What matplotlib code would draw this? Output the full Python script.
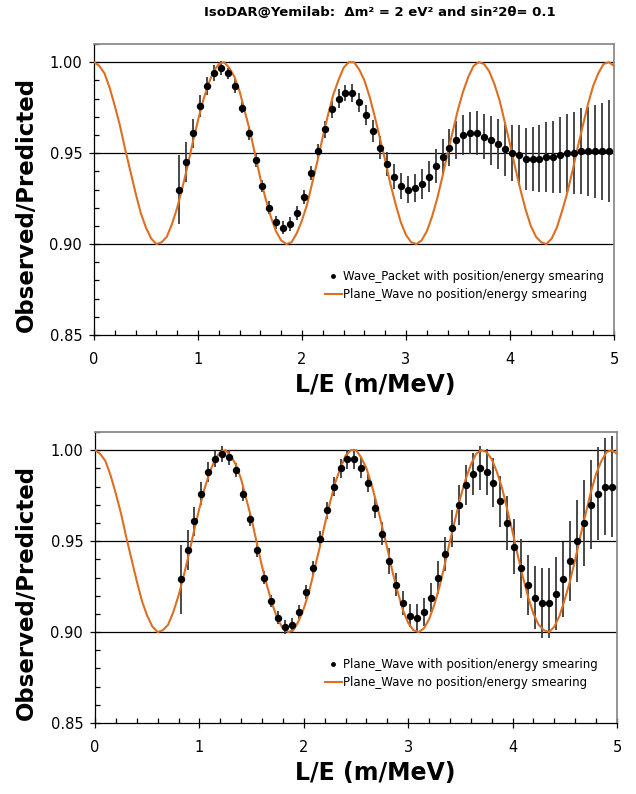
import matplotlib

matplotlib.use("Agg")
import matplotlib.pyplot as plt
from matplotlib.lines import Line2D
from matplotlib.ticker import MultipleLocator, FormatStrFormatter

plt.rcParams["font.family"] = ["DejaVu Sans"]

TITLE = "IsoDAR@Yemilab:  \u0394m\u00b2 = 2 eV\u00b2 and sin\u00b22\u03b8= 0.1"
XLABEL = "L/E (m/MeV)"
YLABEL = "Observed/Predicted"
ORANGE = "#DD6F22"

# L/E of the measured bins (same for both panels)
bin_x = [0.820, 0.887, 0.953, 1.020, 1.086, 1.153, 1.220, 1.286, 1.353, 1.419,
         1.486, 1.553, 1.619, 1.686, 1.752, 1.819, 1.886, 1.952, 2.019, 2.085,
         2.152, 2.219, 2.285, 2.352, 2.418, 2.485, 2.552, 2.618, 2.685, 2.751,
         2.818, 2.885, 2.951, 3.018, 3.084, 3.151, 3.218, 3.284, 3.351, 3.417,
         3.484, 3.551, 3.617, 3.684, 3.750, 3.817, 3.884, 3.950, 4.017, 4.083,
         4.150, 4.217, 4.283, 4.350, 4.416, 4.483, 4.550, 4.616, 4.683, 4.749,
         4.816, 4.883, 4.949]

# top panel: wave packet with smearing
wp_y = [0.930, 0.945, 0.961, 0.976, 0.987, 0.994, 0.997, 0.994, 0.987, 0.975,
        0.961, 0.946, 0.932, 0.920, 0.912, 0.909, 0.911, 0.917, 0.926, 0.939,
        0.951, 0.963, 0.974, 0.980, 0.983, 0.983, 0.978, 0.971, 0.962, 0.953,
        0.944, 0.937, 0.932, 0.930, 0.931, 0.933, 0.937, 0.943, 0.948, 0.953,
        0.957, 0.960, 0.961, 0.961, 0.959, 0.957, 0.955, 0.952, 0.950, 0.949,
        0.947, 0.947, 0.947, 0.948, 0.948, 0.949, 0.950, 0.950, 0.951, 0.951,
        0.951, 0.951, 0.951]
wp_err = [0.019, 0.011, 0.008, 0.006, 0.005, 0.0043, 0.0038, 0.003, 0.0037, 0.003,
          0.0037, 0.0037, 0.0032, 0.0035, 0.0037, 0.0037, 0.004, 0.0037, 0.004, 0.004,
          0.004, 0.0046, 0.0049, 0.005, 0.0046, 0.0049, 0.0052, 0.0057, 0.006, 0.0062,
          0.0064, 0.0068, 0.0071, 0.0076, 0.0077, 0.0082, 0.0084, 0.0092, 0.0099, 0.010,
          0.0104, 0.011, 0.0115, 0.012, 0.0125, 0.0134, 0.014, 0.0148, 0.0156, 0.0163,
          0.017, 0.0176, 0.0183, 0.0192, 0.0198, 0.0207, 0.0216, 0.0225, 0.0236, 0.0245,
          0.0256, 0.0265, 0.028]

# bottom panel: plane wave with smearing
pw_y = [0.929, 0.945, 0.961, 0.976, 0.988, 0.995, 0.998, 0.996, 0.989, 0.976,
        0.962, 0.945, 0.930, 0.917, 0.908, 0.903, 0.904, 0.911, 0.922, 0.935,
        0.951, 0.967, 0.980, 0.990, 0.995, 0.995, 0.990, 0.982, 0.968, 0.954,
        0.939, 0.926, 0.916, 0.909, 0.908, 0.911, 0.919, 0.930, 0.943, 0.957,
        0.970, 0.981, 0.987, 0.990, 0.988, 0.982, 0.972, 0.960, 0.947, 0.935,
        0.926, 0.919, 0.916, 0.916, 0.921, 0.929, 0.939, 0.950, 0.960, 0.970,
        0.976, 0.980, 0.980]
pw_err = [0.019, 0.011, 0.008, 0.0064, 0.0055, 0.0044, 0.0044, 0.004, 0.004, 0.0037,
          0.0037, 0.0037, 0.0037, 0.0034, 0.0037, 0.0038, 0.0038, 0.0037, 0.004, 0.0042,
          0.0044, 0.0046, 0.005, 0.0052, 0.0053, 0.0055, 0.0055, 0.005, 0.0055, 0.0064,
          0.007, 0.0064, 0.0066, 0.0064, 0.0073, 0.0077, 0.0082, 0.0092, 0.0095, 0.0103,
          0.011, 0.011, 0.0116, 0.0121, 0.0126, 0.0135, 0.014, 0.0148, 0.015, 0.0161,
          0.0165, 0.0174, 0.019, 0.019, 0.020, 0.0205, 0.0218, 0.0224, 0.0236, 0.0244,
          0.0256, 0.0265, 0.0276]

# plane wave, no smearing (read every 0.05 m/MeV)
curve_x = [round(0.05 * i, 2) for i in range(101)]
curve_y = [1.000, 0.998, 0.994, 0.986, 0.976, 0.965, 0.952, 0.940, 0.928, 0.917,
           0.909, 0.903, 0.900, 0.901, 0.904, 0.911, 0.920, 0.931, 0.943, 0.956,
           0.968, 0.979, 0.988, 0.995, 0.999, 1.000, 0.997, 0.992, 0.984, 0.973,
           0.962, 0.949, 0.936, 0.925, 0.915, 0.907, 0.902, 0.900, 0.901, 0.906,
           0.913, 0.922, 0.934, 0.946, 0.959, 0.971, 0.982, 0.990, 0.997, 1.000,
           1.000, 0.996, 0.990, 0.981, 0.970, 0.958, 0.946, 0.933, 0.922, 0.912,
           0.905, 0.901, 0.900, 0.902, 0.907, 0.915, 0.925, 0.937, 0.950, 0.962,
           0.974, 0.984, 0.992, 0.998, 1.000, 0.999, 0.995, 0.988, 0.979, 0.967,
           0.955, 0.942, 0.930, 0.919, 0.910, 0.904, 0.901, 0.900, 0.903, 0.909,
           0.918, 0.928, 0.940, 0.953, 0.965, 0.977, 0.987, 0.994, 0.999, 1.000,
           0.998]

panels = [
    (wp_y, wp_err, "Wave_Packet with position/energy smearing"),
    (pw_y, pw_err, "Plane_Wave with position/energy smearing"),
]
curve_label = "Plane_Wave no position/energy smearing"

fig = plt.figure(figsize=(6.36, 7.94), dpi=100)
W, H = 636, 794
# axes boxes in pixels: left, right, top, bottom
boxes = [(94, 614, 44, 335), (95, 617, 432, 723)]

for (ys, errs, pt_label), (l, r, t, b), shift in zip(panels, boxes, [0, 388]):
    ax = fig.add_axes([l / W, 1 - b / H, (r - l) / W, (b - t) / H])
    ax.set_xlim(0, 5)
    ax.set_ylim(0.85, 1.01)

    for yv in [0.90, 0.95, 1.00]:
        ax.axhline(yv, color="black", lw=0.9, zorder=1)

    ax.errorbar(bin_x, ys, yerr=errs, fmt="none", ecolor="#3a3a3a",
                elinewidth=1.3, capsize=0, zorder=2)
    ax.plot(curve_x, curve_y, color=ORANGE, lw=1.5, zorder=3)
    ax.plot(bin_x, ys, "o", color="black", ms=4.3, zorder=4)

    ax.xaxis.set_major_locator(MultipleLocator(1))
    ax.xaxis.set_minor_locator(MultipleLocator(0.2))
    ax.yaxis.set_major_locator(MultipleLocator(0.05))
    ax.yaxis.set_minor_locator(MultipleLocator(0.01))
    ax.yaxis.set_major_formatter(FormatStrFormatter("%.2f"))
    ax.tick_params(which="major", direction="inout", length=7, width=0.9,
                   labelsize=10.5)
    ax.tick_params(which="minor", direction="in", length=3.5, width=0.9)
    ax.tick_params(axis="x", which="major", pad=9)
    ax.tick_params(axis="y", which="major", pad=5)
    for side in ["top", "right"]:
        ax.spines[side].set_color("#8c8c8c")
        ax.spines[side].set_linewidth(1.3)
    for side in ["left", "bottom"]:
        ax.spines[side].set_linewidth(0.9)

    handles = [
        Line2D([], [], ls="none", marker="o", color="black", ms=2.5),
        Line2D([], [], color=ORANGE, lw=1.5),
    ]
    ax.legend(handles, [pt_label, curve_label], loc="upper left",
              bbox_to_anchor=((325 - l) / (r - l), (b - (270 + shift)) / (b - t)),
              frameon=False, fontsize=8.5, handlelength=1.4, handletextpad=0.15,
              borderpad=0, borderaxespad=0, labelspacing=0.45)

    fig.text(26 / W, 1 - (204 + shift) / H, YLABEL, rotation=90,
             fontsize=16.5, fontweight="bold", ha="center", va="center")
    fig.text(375 / W, 1 - (385 + shift) / H, XLABEL,
             fontsize=17, fontweight="bold", ha="center", va="center")

fig.text(380 / W, 1 - 13 / H, TITLE, fontsize=9.5, fontweight="bold",
         ha="center", va="center")

fig.savefig("out.png", dpi=100)
